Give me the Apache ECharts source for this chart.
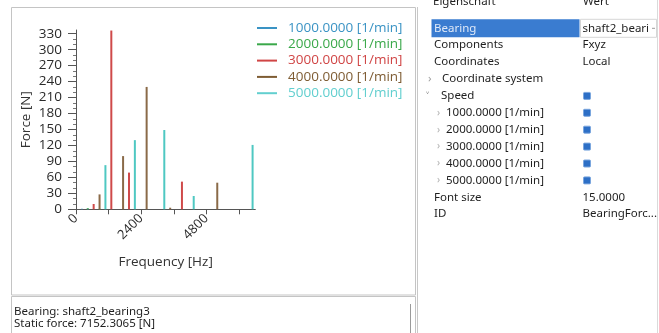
<!DOCTYPE html>
<html>
<head>
<meta charset="utf-8">
<script src="https://cdn.jsdelivr.net/npm/echarts@6/dist/echarts.min.js"></script>
<style>
  html, body { margin: 0; padding: 0; background: #ffffff; }
  #main { width: 659px; height: 333px; }
</style>
</head>
<body>
<div id="main"></div>
<script>
// Speed cases shown in the legend
const speeds = ['1000.0000 [1/min]', '2000.0000 [1/min]', '3000.0000 [1/min]', '4000.0000 [1/min]', '5000.0000 [1/min]'];
const speedColors = ['#3a93c4', '#3aa84a', '#d04545', '#7e5c33', '#62cfcf'];
const barColors = ['#3a93c4', '#3aa84a', '#cf4a4a', '#8a6a48', '#4fc8c2'];

// Force spectrum per speed: frequency [Hz] and force amplitude [N]
const freq1000 = [217, 433];
const force1000 = [1, 1];
const freq2000 = [433, 867];
const force2000 = [2, 1];
const freq3000 = [650, 1300, 1950, 3900];
const force3000 = [10, 336, 69, 52];
const freq4000 = [867, 1733, 2600, 3467, 5200];
const force4000 = [28, 100, 230, 3, 50];
const freq5000 = [1083, 2167, 3250, 4333, 6500];
const force5000 = [83, 130, 149, 25, 121];

// Axis ticks
const xTicks = [0, 1200, 2400, 3600, 4800, 6000];
const xLabels = [0, 2400, 4800];
const yTicks = [0, 30, 60, 90, 120, 150, 180, 210, 240, 270, 300, 330];

// Property grid rows: label, value, type
const propRows = [
  ['Bearing', 'shaft2_beari', 'select'],
  ['Components', 'Fxyz', 'text'],
  ['Coordinates', 'Local', 'text'],
  ['Coordinate system', '', 'group'],
  ['Speed', '', 'groupcheck'],
  ['1000.0000 [1/min]', '', 'childcheck'],
  ['2000.0000 [1/min]', '', 'childcheck'],
  ['3000.0000 [1/min]', '', 'childcheck'],
  ['4000.0000 [1/min]', '', 'childcheck'],
  ['5000.0000 [1/min]', '', 'childcheck'],
  ['Font size', '15.0000', 'text'],
  ['ID', 'BearingForc...', 'text']
];
const infoLines = ['Bearing: shaft2_bearing3', 'Static force: 7152.3065 [N]'];

const freqs = [freq1000, freq2000, freq3000, freq4000, freq5000];
const forces = [force1000, force2000, force3000, force4000, force5000];

const uiFont = '11.5px "Noto Sans", "Open Sans", sans-serif';
const uiColor = '#1e1e1e';

// Window frame, panels and property grid
const graphic = [];
graphic.push({ type: 'rect', z: -10, shape: { x: 11.5, y: 7.5, width: 404, height: 287.5 }, style: { fill: '#ffffff', stroke: '#c4c4c4', lineWidth: 1 } });
graphic.push({ type: 'rect', z: -10, shape: { x: 11.5, y: 296.5, width: 404, height: 40 }, style: { fill: '#ffffff', stroke: '#c4c4c4', lineWidth: 1 } });
graphic.push({ type: 'line', shape: { x1: 410.5, y1: 304, x2: 410.5, y2: 333 }, style: { stroke: '#9a9a9a', lineWidth: 1 } });
graphic.push({ type: 'line', shape: { x1: 417.5, y1: 7, x2: 417.5, y2: 333 }, style: { stroke: '#c8c8c8', lineWidth: 1 } });
graphic.push({ type: 'line', shape: { x1: 657.5, y1: 0, x2: 657.5, y2: 333 }, style: { stroke: '#dadada', lineWidth: 1 } });

infoLines.forEach(function (t, i) {
  graphic.push({ type: 'text', style: { text: t, x: 14, y: 311.5 + i * 12, font: uiFont, fill: uiColor, textVerticalAlign: 'middle', verticalAlign: 'middle' } });
});

// Property grid header (scrolled partly out of view)
graphic.push({ type: 'text', style: { text: 'Eigenschaft', x: 433, y: 2, font: uiFont, fill: uiColor, textVerticalAlign: 'middle', verticalAlign: 'middle' } });
graphic.push({ type: 'text', style: { text: 'Wert', x: 583, y: 2, font: uiFont, fill: uiColor, textVerticalAlign: 'middle', verticalAlign: 'middle' } });

const rowY0 = 28.3, rowH = 16.9;
propRows.forEach(function (r, i) {
  const y = rowY0 + i * rowH;
  const kind = r[2];
  let tx = 434;
  if (kind === 'select') {
    graphic.push({ type: 'rect', shape: { x: 431.5, y: y - 9, width: 148, height: 18 }, style: { fill: '#3a7cd0' } });
    graphic.push({ type: 'rect', shape: { x: 580.5, y: y - 9, width: 76, height: 18 }, style: { fill: '#ffffff', stroke: '#d6d6d6', lineWidth: 1 } });
    graphic.push({ type: 'line', shape: { x1: 652, y1: y, x2: 655, y2: y }, style: { stroke: '#9a9a9a', lineWidth: 1 } });
  }
  if (kind === 'group') {
    tx = 442;
    graphic.push({ type: 'text', style: { text: '›', x: 428, y: y, font: uiFont, fill: '#a0a0a0', textVerticalAlign: 'middle', verticalAlign: 'middle' } });
  }
  if (kind === 'groupcheck') {
    tx = 441;
    graphic.push({ type: 'text', style: { text: '˅', x: 426, y: y + 1, font: uiFont, fill: '#707070', textVerticalAlign: 'middle', verticalAlign: 'middle' } });
  }
  if (kind === 'childcheck') {
    tx = 446;
    graphic.push({ type: 'text', style: { text: '›', x: 437, y: y, font: '10px "Noto Sans", sans-serif', fill: '#b0b0b0', textVerticalAlign: 'middle', verticalAlign: 'middle' } });
  }
  if (kind === 'groupcheck' || kind === 'childcheck') {
    graphic.push({ type: 'rect', shape: { x: 583.5, y: y - 3.5, width: 7, height: 7, r: 1 }, style: { fill: '#2d6fc6', stroke: '#7aa6de', lineWidth: 1 } });
  }
  graphic.push({ type: 'text', style: { text: r[0], x: tx, y: y, font: uiFont, fill: kind === 'select' ? '#dfe9f8' : uiColor, textVerticalAlign: 'middle', verticalAlign: 'middle' } });
  if (r[1]) {
    graphic.push({ type: 'text', style: { text: r[1], x: 582.5, y: y, font: uiFont, fill: uiColor, textVerticalAlign: 'middle', verticalAlign: 'middle' } });
  }
});

const series = speeds.map(function (name, i) {
  return {
    name: name,
    type: 'bar',
    barWidth: 2,
    barGap: '-100%',
    itemStyle: { color: barColors[i] },
    data: freqs[i].map(function (f, j) { return [f, forces[i][j]]; })
  };
});

const chart = echarts.init(document.getElementById('main'), null, { renderer: 'canvas' });
chart.setOption({
  animation: false,
  backgroundColor: '#ffffff',
  textStyle: { fontFamily: '"Open Sans", sans-serif' },
  grid: { left: 76, top: 30, right: 403.7, bottom: 123.7, containLabel: false },
  legend: {
    orient: 'vertical',
    left: 257,
    top: 21,
    padding: 0,
    itemGap: 2.3,
    itemWidth: 20,
    itemHeight: 2,
    icon: 'rect',
    selectedMode: false,
    data: speeds.map(function (s, i) {
      return { name: s, itemStyle: { color: speedColors[i] }, textStyle: { color: speedColors[i] } };
    }),
    textStyle: { fontSize: 13.5, fontFamily: '"Open Sans", sans-serif', padding: [0, 0, 0, 6] }
  },
  xAxis: {
    type: 'value',
    min: 0,
    max: 6600,
    interval: 1200,
    name: 'Frequency [Hz]',
    nameLocation: 'middle',
    nameGap: 46,
    nameTextStyle: { fontSize: 13.5, color: '#333333' },
    axisLine: { show: true, onZero: false, lineStyle: { color: '#555555', width: 1 } },
    axisTick: { show: true, length: 5, customValues: xTicks, lineStyle: { color: '#555555' } },
    axisLabel: {
      rotate: 45, fontSize: 13, color: '#2a2a2a', margin: 7, customValues: xLabels,
      formatter: function (v) { return String(v); }
    },
    splitLine: { show: false }
  },
  yAxis: {
    type: 'value',
    min: 0,
    max: 337,
    interval: 30,
    name: 'Force [N]',
    nameLocation: 'middle',
    nameRotate: 90,
    nameGap: 43,
    nameTextStyle: { fontSize: 13.5, color: '#333333' },
    axisLine: { show: true, lineStyle: { color: '#555555', width: 1 } },
    axisTick: { show: true, length: 8, customValues: yTicks, lineStyle: { color: '#555555' } },
    minorTick: { show: true, splitNumber: 3, length: 3, lineStyle: { color: '#777777' } },
    axisLabel: { fontSize: 13.5, color: '#2a2a2a', margin: 14, customValues: yTicks },
    splitLine: { show: false }
  },
  graphic: graphic,
  series: series
});
</script>
</body>
</html>
